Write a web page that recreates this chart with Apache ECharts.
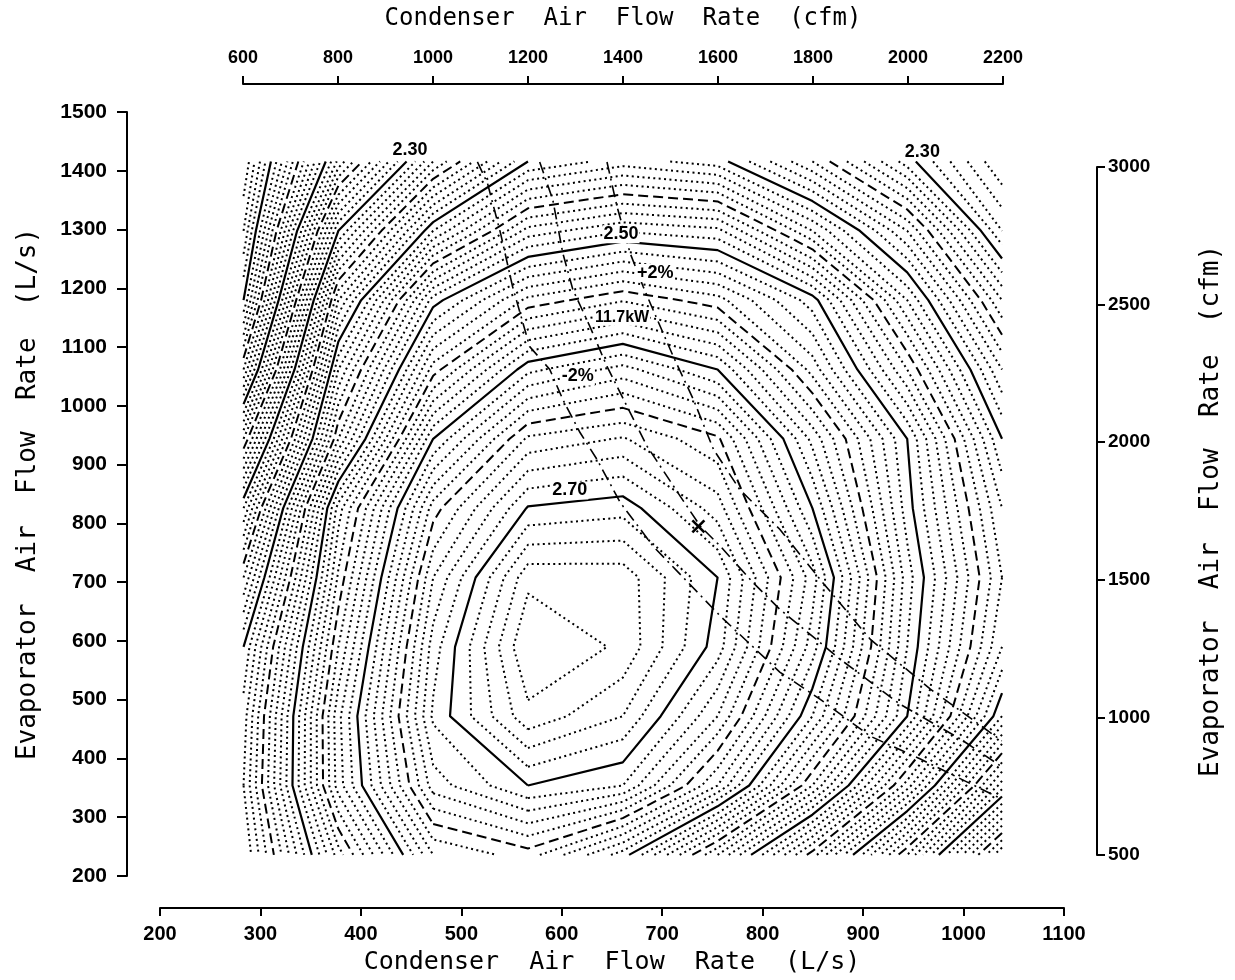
<!DOCTYPE html>
<html>
<head>
<meta charset="utf-8">
<script src="https://cdn.jsdelivr.net/npm/echarts/dist/echarts.min.js"></script>
<style>
html,body{margin:0;padding:0;background:#fff;}
#c{width:1235px;height:980px;}
</style>
</head>
<body>
<div id="c"></div>
<script>
// ---------------- DATA ----------------
// grid nodes (cfm)
const condenserCfm  = [600, 800, 1000, 1200, 1400, 1600, 1800, 2000, 2200];
const evaporatorCfm = [500, 750, 1000, 1250, 1500, 1750, 2000, 2250, 2500, 2750, 3000];
// performance value at each grid node, one row per evaporator flow (bottom -> top)
const perf500  = [2.41, 2.535, 2.63, 2.645, 2.605, 2.53, 2.445, 2.34, 2.22];
const perf750  = [2.42, 2.575, 2.675, 2.70, 2.69, 2.63, 2.54, 2.435, 2.315];
const perf1000 = [2.415, 2.577, 2.692, 2.737, 2.72, 2.67, 2.59, 2.50, 2.39];
const perf1250 = [2.40, 2.56, 2.685, 2.75, 2.738, 2.695, 2.615, 2.51, 2.42];
const perf1500 = [2.36, 2.542, 2.67, 2.737, 2.736, 2.70, 2.625, 2.515, 2.43];
const perf1750 = [2.31, 2.525, 2.645, 2.701, 2.706, 2.675, 2.60, 2.505, 2.42];
const perf2000 = [2.24, 2.46, 2.60, 2.662, 2.671, 2.652, 2.577, 2.50, 2.40];
const perf2250 = [2.16, 2.42, 2.545, 2.607, 2.624, 2.60, 2.536, 2.46, 2.37];
const perf2500 = [2.10, 2.37, 2.495, 2.543, 2.559, 2.544, 2.505, 2.42, 2.33];
const perf2750 = [2.07, 2.30, 2.41, 2.474, 2.489, 2.483, 2.43, 2.37, 2.28];
const perf3000 = [2.05, 2.223, 2.33, 2.40, 2.415, 2.405, 2.36, 2.305, 2.25];

// capacity lines (L/s condenser, L/s evaporator)
const capMinus2 = [[516,1415],[526,1379],[539,1294],[551,1203],[568,1101],[588,1062],[601,1011],[618,955],[635,909],[658,836],[691,761],[735,683],[758,642],[817,547],[857,501],[907,438],[957,399],[1038,331]];
const cap117kW  = [[578,1415],[591,1351],[601,1260],[611,1198],[628,1135],[645,1067],[665,999],[685,931],[718,846],[738,795],[758,761],[790,700],[817,654],[877,569],[937,492],[997,433],[1038,386]];
const capPlus2  = [[645,1415],[655,1339],[668,1260],[681,1203],[695,1147],[711,1084],[731,1011],[751,926],[777,858],[817,790],[857,705],[907,603],[967,518],[1038,430]];
const designPoint = [736, 795];

// axis tick values
const bottomTicks = [200, 1100, 100];
const leftTicks   = [200, 1500, 100];
const topTicks    = [600, 2200, 200];
const rightTicks  = [500, 3000, 500];

// contour levels (x100)
const levelFrom = 201, levelTo = 275;

// annotation texts
const annotTexts = ['2.30', '2.30', '2.50', '2.70', '+2%', '11.7kW', '-2%'];
const annotAt    = [[449,1436],[959,1432],[659,1292],[608,856],[693,1226],[660,1150],[616,1050]];
const annotFontSize = [18, 18, 18, 18, 18, 16, 18];

// ---------------- CONTOURING ----------------
const CFM2LS = 0.471947;
const X = condenserCfm.map(v => v * CFM2LS);
const Y = evaporatorCfm.map(v => v * CFM2LS);
const Z = [perf500, perf750, perf1000, perf1250, perf1500, perf1750, perf2000, perf2250, perf2500, perf2750, perf3000];

function contourLevel(L) {
  const segs = [];
  const nx = X.length, ny = Y.length;
  const up = v => v >= L;
  for (let j = 0; j < ny - 1; j++) {
    for (let i = 0; i < nx - 1; i++) {
      const v0 = Z[j][i], v1 = Z[j][i + 1], v2 = Z[j + 1][i + 1], v3 = Z[j + 1][i];
      const e = {};
      if (up(v0) !== up(v1)) { const t = (L - v0) / (v1 - v0); e.b = {k: 'h' + j + '_' + i, x: X[i] + t * (X[i + 1] - X[i]), y: Y[j]}; }
      if (up(v1) !== up(v2)) { const t = (L - v1) / (v2 - v1); e.r = {k: 'v' + j + '_' + (i + 1), x: X[i + 1], y: Y[j] + t * (Y[j + 1] - Y[j])}; }
      if (up(v3) !== up(v2)) { const t = (L - v3) / (v2 - v3); e.t = {k: 'h' + (j + 1) + '_' + i, x: X[i] + t * (X[i + 1] - X[i]), y: Y[j + 1]}; }
      if (up(v0) !== up(v3)) { const t = (L - v0) / (v3 - v0); e.l = {k: 'v' + j + '_' + i, x: X[i], y: Y[j] + t * (Y[j + 1] - Y[j])}; }
      const list = ['b', 'r', 't', 'l'].filter(s => e[s]);
      if (list.length === 2) segs.push([e[list[0]], e[list[1]]]);
      else if (list.length === 4) {
        const c = (v0 + v1 + v2 + v3) / 4;
        if (up(v0) === up(c)) { segs.push([e.b, e.r]); segs.push([e.t, e.l]); }
        else { segs.push([e.b, e.l]); segs.push([e.r, e.t]); }
      }
    }
  }
  const byKey = new Map();
  segs.forEach((s, idx) => s.forEach(p => { if (!byKey.has(p.k)) byKey.set(p.k, []); byKey.get(p.k).push(idx); }));
  const used = new Array(segs.length).fill(false);
  const lines = [];
  const extend = arr => {
    while (true) {
      const last = arr[arr.length - 1];
      const cand = (byKey.get(last.k) || []).find(i => !used[i]);
      if (cand === undefined) break;
      used[cand] = true;
      const s = segs[cand];
      arr.push(s[0].k === last.k ? s[1] : s[0]);
    }
  };
  for (let s0 = 0; s0 < segs.length; s0++) {
    if (used[s0]) continue;
    used[s0] = true;
    const pts = [segs[s0][0], segs[s0][1]];
    extend(pts); pts.reverse(); extend(pts);
    lines.push(pts.map(p => [p.x, p.y]));
  }
  return lines;
}

const contourItems = [];
for (let k = levelFrom; k <= levelTo; k++) {
  const L = k / 100;
  let style;
  if (k % 10 === 0) style = {w: 2.2, dash: null};
  else if (k % 5 === 0) style = {w: 2, dash: [10, 5]};
  else style = {w: 2, dash: [2, 3.4]};
  contourLevel(L).forEach(pts => contourItems.push({pts, w: style.w, dash: style.dash}));
}
const capItems = [capMinus2, cap117kW, capPlus2];

// ---------------- CHART ----------------
const chart = echarts.init(document.getElementById('c'));
const plain = v => String(v);
const tickFont = {color: '#000', fontFamily: 'Liberation Sans', fontWeight: 'bold', formatter: plain};
const nameFont = {color: '#000', fontFamily: 'DejaVu Sans Mono', fontSize: 25};
const axLine = {show: true, lineStyle: {color: '#000', width: 2}};
const tick = len => ({show: true, inside: false, length: len, lineStyle: {width: 2, color: '#000'}});

chart.setOption({
  backgroundColor: '#fff',
  animation: false,
  grid: [
    {left: 160, right: 171, top: 112, bottom: 103},
    {left: 243, right: 232, top: 83, height: 1},
    {right: 137, top: 167, bottom: 125, width: 1}
  ],
  xAxis: [
    {gridIndex: 0, type: 'value', position: 'bottom', offset: 32,
     min: bottomTicks[0], max: bottomTicks[1], interval: bottomTicks[2],
     axisLine: axLine, axisTick: tick(8),
     axisLabel: Object.assign({fontSize: 20, margin: 16}, tickFont), splitLine: {show: false},
     name: 'Condenser  Air  Flow  Rate  (L/s)', nameLocation: 'middle', nameGap: 42, nameTextStyle: nameFont},
    {gridIndex: 1, type: 'value', position: 'top',
     min: topTicks[0], max: topTicks[1], interval: topTicks[2],
     axisLine: axLine, axisTick: tick(8),
     axisLabel: Object.assign({fontSize: 18, margin: 16}, tickFont), splitLine: {show: false},
     name: 'Condenser  Air  Flow  Rate  (cfm)', nameLocation: 'middle', nameGap: 52, nameTextStyle: Object.assign({}, nameFont, {fontSize: 24})},
    {gridIndex: 2, type: 'value', show: false, min: 0, max: 1}
  ],
  yAxis: [
    {gridIndex: 0, type: 'value', position: 'left', offset: 33,
     min: leftTicks[0], max: leftTicks[1], interval: leftTicks[2],
     axisLine: axLine, axisTick: tick(10),
     axisLabel: Object.assign({fontSize: 21, margin: 20}, tickFont), splitLine: {show: false},
     name: 'Evaporator  Air  Flow  Rate  (L/s)', nameLocation: 'middle', nameGap: 86, nameRotate: 90, nameTextStyle: Object.assign({}, nameFont, {fontSize: 26})},
    {gridIndex: 1, type: 'value', show: false, min: 0, max: 1},
    {gridIndex: 2, type: 'value', position: 'right',
     min: rightTicks[0], max: rightTicks[1], interval: rightTicks[2],
     axisLine: axLine, axisTick: tick(8),
     axisLabel: Object.assign({fontSize: 19, margin: 10}, tickFont), splitLine: {show: false},
     name: 'Evaporator  Air  Flow  Rate  (cfm)', nameLocation: 'middle', nameGap: 100, nameRotate: 90, nameTextStyle: Object.assign({}, nameFont, {fontSize: 26})}
  ],
  series: [
    {
      type: 'custom', coordinateSystem: 'cartesian2d', xAxisIndex: 0, yAxisIndex: 0,
      silent: true, clip: false,
      data: contourItems.map((c, i) => [c.pts[0][0], c.pts[0][1], i]),
      encode: {x: 0, y: 1},
      renderItem: (params, api) => {
        const c = contourItems[params.dataIndex];
        return {type: 'polyline', shape: {points: c.pts.map(p => api.coord(p))},
                style: {stroke: '#000', fill: 'none', lineWidth: c.w, lineDash: c.dash, lineCap: 'butt', lineJoin: 'round'}};
      }
    },
    {
      type: 'custom', coordinateSystem: 'cartesian2d', xAxisIndex: 0, yAxisIndex: 0,
      silent: true, clip: false,
      data: capItems.map((c, i) => [c[0][0], c[0][1], i]),
      encode: {x: 0, y: 1},
      renderItem: (params, api) => {
        const c = capItems[params.dataIndex];
        return {type: 'polyline', shape: {points: c.map(p => api.coord(p))},
                style: {stroke: '#000', fill: 'none', lineWidth: 1.6, lineDash: [12, 5, 2, 5]}};
      }
    },
    {
      type: 'custom', coordinateSystem: 'cartesian2d', xAxisIndex: 0, yAxisIndex: 0,
      silent: true, clip: false,
      data: annotAt.map((p, i) => [p[0], p[1], i]),
      encode: {x: 0, y: 1},
      renderItem: (params, api) => {
        const i = params.dataIndex;
        const p = api.coord(annotAt[i]);
        return {type: 'text', x: p[0], y: p[1],
                style: {text: annotTexts[i], fill: '#000', font: 'bold ' + annotFontSize[i] + 'px "Liberation Sans"',
                        align: 'center', verticalAlign: 'middle', backgroundColor: '#fff', padding: [0, 1]}};
      }
    },
    {
      type: 'custom', coordinateSystem: 'cartesian2d', xAxisIndex: 0, yAxisIndex: 0,
      silent: true, clip: false,
      data: [[designPoint[0], designPoint[1]]],
      encode: {x: 0, y: 1},
      renderItem: (params, api) => {
        const p = api.coord(designPoint);
        const s = 6;
        return {type: 'group', children: [
          {type: 'line', shape: {x1: p[0] - s, y1: p[1] - s, x2: p[0] + s, y2: p[1] + s}, style: {stroke: '#000', lineWidth: 2.6}},
          {type: 'line', shape: {x1: p[0] - s, y1: p[1] + s, x2: p[0] + s, y2: p[1] - s}, style: {stroke: '#000', lineWidth: 2.6}}
        ]};
      }
    }
  ]
});
</script>
</body>
</html>
